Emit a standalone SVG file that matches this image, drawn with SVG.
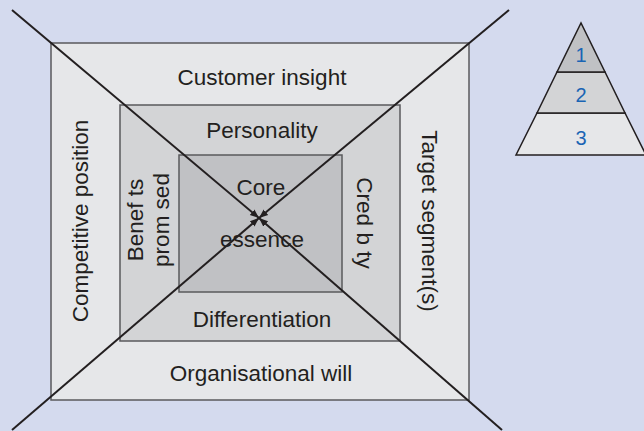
<svg xmlns="http://www.w3.org/2000/svg" width="644" height="431" viewBox="0 0 644 431">
<style>
.lbl{font-family:"Liberation Sans",Arial,sans-serif;font-size:22.5px;fill:#231f20;text-anchor:middle}
.num{font-family:"Liberation Sans",Arial,sans-serif;font-size:20px;fill:#1a64b4;text-anchor:middle}
.box{stroke:#5a5a5c;stroke-width:1.5}
.conn{stroke:#231f20;stroke-width:2;fill:none;marker-end:url(#ah)}
.pyr{stroke:#231f20;stroke-width:1.5}
</style>
<defs>
<marker id="ah" viewBox="0 0 10 10" refX="10" refY="5" markerWidth="4.5" markerHeight="4.5" orient="auto" markerUnits="strokeWidth">
<path d="M0,1 L10,5 L0,9 z" fill="#231f20"/>
</marker>
</defs>
<rect x="0" y="0" width="644" height="431" fill="#d4daee"/>
<g id="outer">
<rect class="box" x="51" y="43" width="418" height="357" fill="#e6e7e9"/>
<text class="lbl" x="262" y="85">Customer insight</text>
<text class="lbl" x="261" y="381">Organisational will</text>
<text class="lbl" transform="translate(88,221) rotate(-90)">Competitive position</text>
<text class="lbl" transform="translate(422,221) rotate(90)">Target segment(s)</text>
</g>
<g id="middle">
<rect class="box" x="120" y="105" width="280" height="236" fill="#d3d4d6"/>
<text class="lbl" x="262" y="138">Personality</text>
<text class="lbl" x="262" y="327">Differentiation</text>
<text class="lbl" transform="translate(143,220) rotate(-90)">Benef ts</text>
<text class="lbl" transform="translate(169,220) rotate(-90)">prom sed</text>
<text class="lbl" transform="translate(357,223) rotate(90)">Cred b  ty</text>
</g>
<g id="inner">
<rect class="box" x="179" y="155" width="163" height="137" fill="#c0c1c4"/>
<text class="lbl" x="261" y="195">Core</text>
<text class="lbl" x="262" y="247">essence</text>
</g>
<g id="connectors">
<line class="conn" x1="12" y1="10" x2="259" y2="218"/>
<line class="conn" x1="509" y1="10" x2="259" y2="218"/>
<line class="conn" x1="12" y1="430" x2="259" y2="218"/>
<line class="conn" x1="502" y1="430" x2="259" y2="218"/>
</g>
<g id="pyramid">
<polygon class="pyr" points="516,155 646,155 625,113 537,113" fill="#e6e7e9"/>
<polygon class="pyr" points="537,113 625,113 605,72 557,72" fill="#d3d4d6"/>
<polygon class="pyr" points="557,72 605,72 581,23" fill="#c0c1c4"/>
<text class="num" x="581" y="62">1</text>
<text class="num" x="581" y="102">2</text>
<text class="num" x="581" y="145">3</text>
</g>
</svg>
